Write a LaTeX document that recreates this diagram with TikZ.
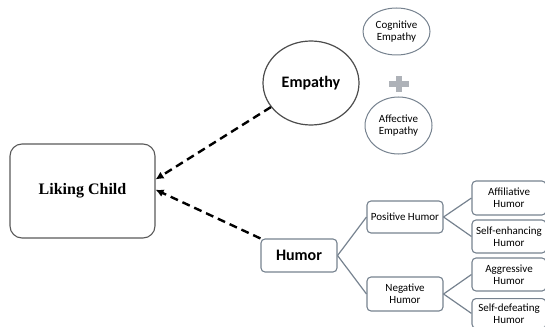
\documentclass[tikz,border=0pt]{standalone}
\usepackage{fontspec}
\setmainfont{Carlito}
\newfontfamily\timesfont{Liberation Serif}
\usetikzlibrary{arrows.meta,%
		shapes.geometric,%
		positioning}
\definecolor{slate}{HTML}{76828F}
\definecolor{plusgrey}{HTML}{AEB2B8}

\begin{document}
\begin{tikzpicture}[x=1pt,y=-1pt,
	small/.style={font=\fontsize{11}{12}\selectfont},
	big/.style={font=\bfseries\fontsize{16}{18}\selectfont},
	hbox/.style={draw=slate,line width=1.1pt,rounded corners=4pt,minimum width=76pt,inner sep=0pt,align=center,small},
	rbox/.style={hbox,minimum width=74pt},
	ebox/.style={ellipse,draw=slate,line width=1pt,inner sep=0pt,align=center,small},
	link/.style={draw=slate,line width=1.2pt},
	dasharrow/.style={line width=2.4pt,dash pattern=on 8pt off 5pt,-{Latex[length=8pt,width=8pt]}}]

\useasboundingbox (0,0) rectangle (545,326);
\clip (0,0) rectangle (545,326);

% main box
\node[draw=black!65,line width=1.1pt,rounded corners=12pt,minimum width=145pt,minimum height=94pt,
	font=\timesfont\bfseries\fontsize{16}{18}\selectfont] (lc) at (82.5,191) {Liking Child};

% empathy
\node[ellipse,draw=black!70,line width=1.2pt,minimum width=96pt,minimum height=84pt,inner sep=0pt,big] (emp) at (311,83) {Empathy};
\node[ebox,minimum width=67pt,minimum height=47pt] (cog) at (396.5,31.5) {Cognitive\\Empathy};
\node[ebox,minimum width=67pt,minimum height=57pt] (aff) at (398.5,125.5) {Affective\\Empathy};
\fill[plusgrey] (388.5,81.5) rectangle (408.5,87.5);
\fill[plusgrey] (395.5,76.5) rectangle (401.5,92.5);

% humor
\node[hbox,minimum height=33pt,big] (hum) at (299,255.5) {Humor};
\node[hbox,minimum height=32pt] (pos) at (405,217) {Positive Humor};
\node[hbox,minimum height=34pt] (neg) at (405,294) {Negative\\Humor};
\node[rbox,minimum height=34pt] (affi) at (509,198) {Affiliative\\Humor};
\node[rbox,minimum height=33pt] (self) at (509,236.5) {Self-enhancing\\Humor};
\node[rbox,minimum height=33pt] (aggr) at (509,274.5) {Aggressive\\Humor};
\node[rbox,minimum height=0pt,inner ysep=5pt,anchor=north] (defe) at (509,298) {Self-defeating\\Humor};

\draw[link] (hum.east) -- (pos.west);
\draw[link] (hum.east) -- (neg.west);
\draw[link] (pos.east) -- (affi.west);
\draw[link] (pos.east) -- (self.west);
\draw[link] (neg.east) -- (aggr.west);
\draw[link] (neg.east) -- (defe.west);

% dashed arrows
\draw[dasharrow] (emp.211) -- (lc.9);
\draw[dasharrow] (hum.north west) -- (lc.1);
\end{tikzpicture}
\end{document}
